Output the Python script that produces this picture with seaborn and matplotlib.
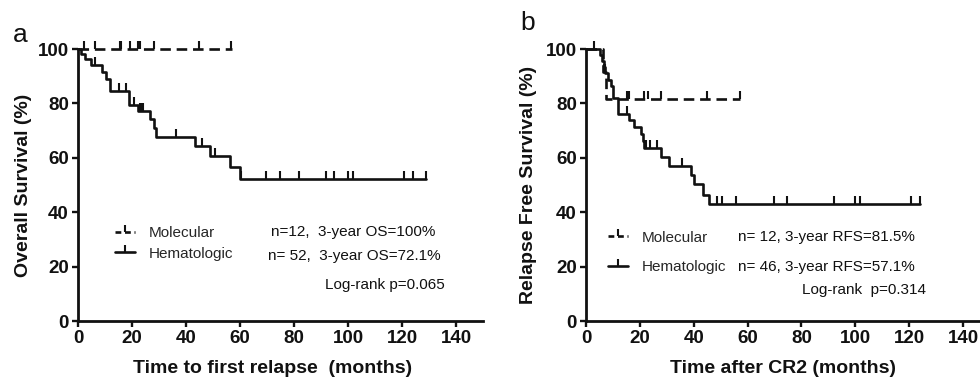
import numpy as np
import pandas as pd
import matplotlib
matplotlib.use("Agg")
import matplotlib.pyplot as plt
from matplotlib.lines import Line2D
import seaborn as sns

# ---- panel a: overall survival ----
a_mol_t = [0, 57.0]
a_mol_s = [100, 100]
a_mol_cens = [2.1, 6.2, 15.4, 16.0, 19.1, 22.2, 22.8, 28.1, 44.8, 56.8]

a_hem_t = [0, 1.2, 2.5, 4.9, 9.0, 10.2, 11.7, 18.8, 22.2, 26.8, 28.2, 29.0,
           43.2, 48.8, 56.2, 59.9, 129.0]
a_hem_s = [100, 98.1, 96.2, 94.2, 91.6, 89.1, 84.5, 79.3, 77.2, 74.3, 71.0, 67.6,
           64.2, 60.5, 56.7, 52.2, 52.2]
a_hem_cens = [6.2, 15.2, 17.9, 20.7, 22.8, 23.4, 24.0, 36.2, 46.0, 50.6, 60.5,
              69.8, 74.7, 81.7, 91.8, 94.9, 99.9, 101.7, 120.9, 123.9, 128.9]

# ---- panel b: relapse free survival ----
b_mol_t = [0, 6.3, 7.4, 57.2]
b_mol_s = [100, 91.7, 81.5, 81.5]
b_mol_cens = [6.6, 6.9, 15.1, 16.1, 21.7, 22.9, 27.8, 44.8, 57.2]

b_hem_t = [0, 5.3, 6.0, 6.6, 7.2, 8.0, 9.3, 9.9, 12.0, 16.1, 17.9, 20.4, 21.0,
           21.6, 27.8, 30.9, 39.0, 40.2, 43.3, 45.8, 124.1]
b_hem_s = [100, 97.8, 95.6, 93.4, 91.2, 88.6, 86.4, 82.1, 76.1, 73.8, 71.3, 68.6,
           66.0, 63.5, 60.3, 57.1, 53.7, 50.2, 46.5, 43.0, 43.0]
b_hem_cens = [2.8, 15.1, 22.3, 23.9, 26.4, 35.6, 48.6, 50.5, 55.8, 69.9, 74.6,
              92.0, 100.0, 101.6, 120.7, 124.1]

groups = ["Molecular", "Hematologic"]
xticks = [0, 20, 40, 60, 80, 100, 120, 140]
yticks = [0, 20, 40, 60, 80, 100]

sns.set_theme(style="ticks")
plt.rcParams["font.family"] = ["Liberation Sans", "DejaVu Sans"]

DASH = (4.0, 2.2)
LW = 1.9


def surv_at(times, surv, c):
    idx = np.searchsorted(times, c, side="right") - 1
    return np.asarray(surv)[idx]


def draw_panel(ax, mol, hem, xlabel, ylabel, stats, stat_pos, leg_pos, leg_space):
    rows = []
    for name, (t, s, _) in zip(groups, [mol, hem]):
        for ti, si in zip(t, s):
            rows.append({"time": ti, "surv": si, "group": name})
    df = pd.DataFrame(rows)
    sns.lineplot(data=df, x="time", y="surv", style="group", ax=ax,
                 dashes={"Molecular": DASH, "Hematologic": ""},
                 drawstyle="steps-post", estimator=None, sort=False,
                 color="#111111", lw=LW, legend=False, clip_on=False)
    for t, s, c in [mol, hem]:
        ax.plot(c, surv_at(t, s, c), linestyle="none", marker=2, ms=6,
                mew=1.5, color="#111111", clip_on=False)

    ax.set_xlim(0, 150)
    ax.set_ylim(0, 100)
    ax.set_xticks(xticks)
    ax.set_yticks(yticks)
    sns.despine(ax=ax)
    for sp in ["left", "bottom"]:
        ax.spines[sp].set_linewidth(2.0)
        ax.spines[sp].set_color("#111111")
    ax.tick_params(direction="out", length=4.5, width=1.7, pad=2,
                   labelsize=13.5, color="#111111", labelcolor="#111111")
    for lab in ax.get_xticklabels() + ax.get_yticklabels():
        lab.set_fontweight("bold")
    ax.set_xlabel(xlabel, fontsize=14, fontweight="bold", color="#111111")
    ax.set_ylabel(ylabel, fontsize=14, fontweight="bold", color="#111111")

    handles = [
        Line2D([], [], color="#111111", lw=LW, ls=(0, (2.2, 1.4)), marker=2,
               ms=5, mew=1.5),
        Line2D([], [], color="#111111", lw=LW, ls="-", marker=2, ms=5, mew=1.5),
    ]
    ax.legend(handles, groups, loc="center left", bbox_to_anchor=leg_pos,
              frameon=False, fontsize=11, handlelength=1.3, handletextpad=0.9,
              labelspacing=leg_space, borderpad=0, borderaxespad=0,
              numpoints=1)
    for txt, (x, y, ha) in zip(stats, stat_pos):
        ax.text(x, y, txt, transform=ax.transAxes, fontsize=11, ha=ha,
                va="center", color="#111111")


fig = plt.figure(figsize=(9.8, 3.77), dpi=100)
ax1 = fig.add_axes([78 / 980, 1 - 321 / 377, 405 / 980, 272 / 377])
ax2 = fig.add_axes([586 / 980, 1 - 321 / 377, 404 / 980, 272 / 377])

draw_panel(ax1, (a_mol_t, a_mol_s, a_mol_cens), (a_hem_t, a_hem_s, a_hem_cens),
           "Time to first relapse  (months)", "Overall Survival (%)",
           ["n=12,  3-year OS=100%", "n= 52,  3-year OS=72.1%", "Log-rank p=0.065"],
           [(0.477, 0.327, "left"), (0.469, 0.239, "left"), (0.906, 0.132, "right")],
           (0.091, 0.285), 0.42)
draw_panel(ax2, (b_mol_t, b_mol_s, b_mol_cens), (b_hem_t, b_hem_s, b_hem_cens),
           "Time after CR2 (months)", "Relapse Free Survival (%)",
           ["n= 12, 3-year RFS=81.5%", "n= 46, 3-year RFS=57.1%", "Log-rank  p=0.314"],
           [(0.376, 0.309, "left"), (0.376, 0.199, "left"), (0.842, 0.114, "right")],
           (0.054, 0.252), 1.0)

ax1.yaxis.set_label_coords(-0.1136, 0.5)
ax2.yaxis.set_label_coords(-0.121, 0.5)
ax1.xaxis.set_label_coords(0.481, -0.142)
ax2.xaxis.set_label_coords(0.488, -0.142)

fig.text(13 / 980, 1 - 42 / 377, "a", fontsize=19, va="baseline", color="#111111")
fig.text(520 / 980, 1 - 30 / 377, "b", fontsize=19, va="baseline", color="#111111")

fig.savefig("out.png", dpi=100)
